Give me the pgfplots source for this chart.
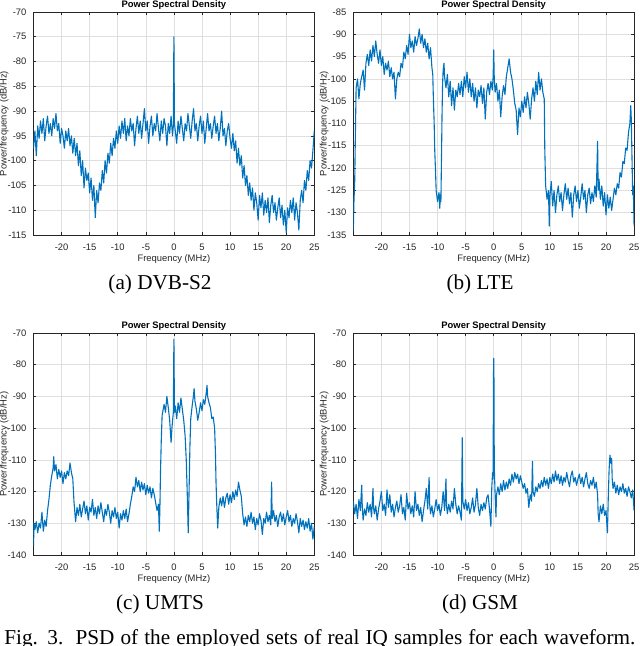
\documentclass[border=0pt]{standalone}
\usepackage{pgfplots}
\pgfplotsset{compat=1.18}
\usepackage{fontspec}
\setmainfont{Liberation Serif}
\newfontfamily\axfont{Liberation Sans}

\definecolor{mblue}{HTML}{0072BD}
\definecolor{axgray}{HTML}{262626}
\definecolor{gridgray}{HTML}{DFDFDF}

\newcommand{\axsize}{\axfont\fontsize{4.7}{5}\selectfont}

\pgfplotsset{
  psd/.style={
    scale only axis, width=140.4pt, height=111.5pt,
    xmin=-25, xmax=25, xtick={-20,-15,...,25},
    grid=major, major grid style={gridgray, line width=0.3pt},
    tick align=inside, major tick length=1.4pt,
    axis line style={axgray, line width=0.35pt},
    every tick/.style={axgray, line width=0.3pt},
    /pgf/number format/assume math mode=true,
    tick label style={font=\axsize, text=axgray},
    xticklabel style={yshift=-0.8pt},
    title={Power Spectral Density},
    every axis title/.style={font=\axsize\bfseries,
      at={(axis description cs:0.5,1)}, anchor=base, yshift=2.3pt},
    xlabel={Frequency (MHz)}, ylabel={Power/frequency (dB/Hz)},
    every axis x label/.style={font=\axsize, text=axgray,
      at={(axis description cs:0.5,-0.1076)}, anchor=center},
    every axis y label/.style={font=\axsize, text=axgray,
      at={(axis description cs:-0.104,0.5)}, rotate=90, anchor=center},
  },
  psdline/.style={mblue, line width=0.55pt, line join=round, no markers},
}

\newcommand{\capfont}{\fontsize{10.6}{12}\selectfont}

\begin{document}
\begin{tikzpicture}
\useasboundingbox (0,0) rectangle (320pt,-323pt);
\clip (0,0) rectangle (320pt,-323pt);

% (a) DVB-S2
\begin{axis}[psd, at={(16.75pt,-117.5pt)}, anchor=south west,
  ymin=-115, ymax=-70, ytick={-115,-110,...,-70}]
\addplot[psdline] coordinates {
(-25,-97.5)(-24.75,-94)(-24.5,-99)(-24.25,-93)(-24,-95.5)(-23.75,-92)(-23.5,-94.5)(-23.25,-91.5)
(-23,-96)(-22.75,-93)(-22.5,-91)(-22.25,-94.5)(-22,-92.5)(-21.75,-95)(-21.5,-91.5)(-21.25,-93.5)
(-21,-90.5)(-20.75,-94)(-20.5,-92.5)(-20.25,-96.5)(-20,-93.5)(-19.75,-95)(-19.5,-97.5)(-19.25,-94)
(-19,-96)(-18.75,-93.5)(-18.5,-97)(-18.25,-95)(-18,-98.5)(-17.75,-95.5)(-17.5,-99)(-17.25,-96.5)
(-17,-101)(-16.75,-98)(-16.5,-103)(-16.25,-100)(-16,-105.5)(-15.75,-101.5)(-15.5,-104)(-15.25,-102.5)
(-15,-106.5)(-14.75,-103.5)(-14.5,-108)(-14.25,-105)(-14,-111.5)(-13.75,-106)(-13.5,-108.5)(-13.25,-104.5)
(-13,-106)(-12.75,-102)(-12.5,-104.5)(-12.25,-100)(-12,-102.5)(-11.75,-98.5)(-11.5,-100.5)(-11.25,-96.5)
(-11,-99)(-10.75,-95.5)(-10.5,-97.5)(-10.25,-94)(-10,-96.5)(-9.75,-93)(-9.5,-95.5)(-9.25,-92)
(-9,-94.5)(-8.75,-91.5)(-8.5,-96)(-8.25,-93)(-8,-95)(-7.75,-91.5)(-7.5,-94)(-7.25,-92.5)
(-7,-97)(-6.75,-93.5)(-6.5,-91)(-6.25,-94.5)(-6,-92)(-5.75,-95.5)(-5.5,-92.5)(-5.25,-89.5)
(-5,-94)(-4.75,-92)(-4.5,-96.5)(-4.25,-93)(-4,-91)(-3.75,-95)(-3.5,-92.5)(-3.25,-94)
(-3,-90.5)(-2.75,-93.5)(-2.5,-96)(-2.25,-92)(-2,-94.5)(-1.75,-91.5)(-1.5,-93)(-1.25,-97)
(-1,-92.5)(-0.75,-94.5)(-0.5,-91)(-0.25,-95)(-0.1,-93)(0,-75)(0.1,-92.5)(0.25,-94)
(0.5,-96.5)(0.75,-92)(1,-94.5)(1.25,-91)(1.5,-93.5)(1.75,-96)(2,-92.5)(2.25,-94)
(2.5,-90.5)(2.75,-93)(3,-95.5)(3.25,-92)(3.5,-89.5)(3.75,-94)(4,-92.5)(4.25,-96)
(4.5,-93)(4.75,-91)(5,-94.5)(5.25,-92)(5.5,-96.5)(5.75,-93.5)(6,-90.5)(6.25,-94)
(6.5,-92.5)(6.75,-95.5)(7,-93)(7.25,-91)(7.5,-94.5)(7.75,-92.5)(8,-96)(8.25,-93.5)
(8.5,-90)(8.75,-95)(9,-93.5)(9.25,-97)(9.5,-94)(9.75,-92.5)(10,-95.5)(10.25,-97.5)
(10.5,-94.5)(10.75,-98)(11,-96)(11.25,-100.5)(11.5,-97.5)(11.75,-101)(12,-99)(12.25,-103.5)
(12.5,-101)(12.75,-105)(13,-103)(13.25,-107)(13.5,-104.5)(13.75,-108)(14,-105.5)(14.25,-110)
(14.5,-106.5)(14.75,-108.5)(15,-112)(15.25,-107)(15.5,-109.5)(15.75,-106.5)(16,-111)(16.25,-108)
(16.5,-110.5)(16.75,-107.5)(17,-112.5)(17.25,-109)(17.5,-107)(17.75,-110.5)(18,-108.5)(18.25,-112)
(18.5,-109.5)(18.75,-107.5)(19,-111.5)(19.25,-109)(19.5,-113)(19.75,-110)(20,-114.5)(20.25,-109.5)
(20.5,-111.5)(20.75,-108)(21,-110.5)(21.25,-107.5)(21.5,-112)(21.75,-108.5)(22,-110.5)(22.25,-114)
(22.5,-108)(22.75,-106)(23,-108.5)(23.25,-104)(23.5,-106)(23.75,-102)(24,-104)(24.25,-100)
(24.5,-101.5)(24.75,-98)(25,-94)
};
\end{axis}
\node[anchor=base, font=\capfont] at (80pt,-144.5pt) {(a) DVB-S2};

% (b) LTE
\begin{axis}[psd, at={(176.65pt,-117.5pt)}, anchor=south west,
  ymin=-135, ymax=-85, ytick={-135,-130,...,-85}]
\addplot[psdline] coordinates {
(-25,-134)(-24.9,-128)(-24.75,-123)(-24.6,-110)(-24.5,-102)(-24.25,-100)(-24,-104.5)(-23.75,-101)
(-23.5,-99.5)(-23.25,-98)(-23,-102.5)(-22.75,-96.5)(-22.5,-94.5)(-22.25,-97)(-22,-93.5)(-21.75,-96)
(-21.5,-92.5)(-21.25,-95)(-21,-91.5)(-20.75,-94.5)(-20.5,-96.5)(-20.25,-93.5)(-20,-97)(-19.75,-95)
(-19.5,-99)(-19.25,-96.5)(-19,-98)(-18.75,-96)(-18.5,-99.5)(-18.25,-97.5)(-18,-100)(-17.75,-98.5)
(-17.5,-104.5)(-17.25,-100)(-17,-98.5)(-16.75,-99.5)(-16.5,-96.5)(-16.25,-97.5)(-16,-94)(-15.75,-95.5)
(-15.5,-92.5)(-15.25,-94.5)(-15,-90)(-14.75,-93)(-14.5,-91.5)(-14.25,-94)(-14,-90.5)(-13.75,-92.5)
(-13.5,-91)(-13.25,-88.8)(-13,-92)(-12.75,-90)(-12.5,-93)(-12.25,-91)(-12,-94)(-11.75,-92)
(-11.5,-95.5)(-11.25,-93)(-11,-97.5)(-10.85,-99)(-10.75,-104)(-10.6,-110)(-10.5,-116)(-10.35,-121)
(-10.25,-125)(-10,-127.5)(-9.75,-125.5)(-9.6,-129)(-9.5,-126)(-9.4,-127.5)(-9.3,-118)(-9.2,-108)
(-9.1,-101)(-9,-98)(-8.85,-96.5)(-8.75,-99.5)(-8.5,-102)(-8.25,-99)(-8,-104)(-7.75,-100.5)
(-7.5,-106)(-7.25,-102)(-7,-107)(-6.75,-102.5)(-6.5,-104)(-6.25,-101)(-6,-103.5)(-5.75,-100.5)
(-5.5,-104)(-5.25,-99.5)(-5,-102)(-4.75,-98.5)(-4.5,-103)(-4.25,-100)(-4,-104)(-3.75,-101)
(-3.5,-105)(-3.25,-102)(-3,-106.5)(-2.75,-102.5)(-2.5,-104)(-2.25,-101.5)(-2,-105.5)(-1.75,-102)
(-1.5,-109)(-1.25,-103)(-1,-101)(-0.75,-103.5)(-0.5,-100.5)(-0.25,-102.5)(-0.1,-99.5)(0,-93.5)
(0.1,-100)(0.25,-103)(0.5,-101)(0.75,-105)(1,-102.5)(1.25,-108.5)(1.5,-104)(1.75,-101.5)
(2,-103.5)(2.25,-99.5)(2.5,-97.5)(2.75,-95.5)(3,-98.5)(3.25,-100)(3.5,-102.5)(3.75,-105.5)
(4,-107)(4.25,-112.5)(4.5,-106.5)(4.75,-108.5)(5,-105)(5.25,-107.5)(5.5,-104)(5.75,-106.5)
(6,-103)(6.25,-105.5)(6.5,-109)(6.75,-104.5)(7,-102)(7.25,-105)(7.5,-100.5)(7.75,-103.5)
(8,-98.5)(8.25,-102.5)(8.5,-100)(8.75,-103)(9,-104.5)(9.1,-116)(9.25,-124)(9.5,-127)
(9.75,-125)(9.9,-133)(10,-126.5)(10.25,-123)(10.5,-128.5)(10.75,-125)(11,-130)(11.25,-126)
(11.5,-124)(11.75,-127.5)(12,-125.5)(12.25,-129.5)(12.5,-126)(12.75,-123.5)(13,-127)(13.25,-124.5)
(13.5,-128)(13.75,-125.5)(14,-131)(14.25,-126)(14.5,-124)(14.75,-127.5)(15,-125)(15.25,-129)
(15.5,-126.5)(15.75,-123.5)(16,-127)(16.25,-125)(16.5,-130)(16.75,-126)(17,-124.5)(17.25,-128)
(17.5,-125.5)(17.75,-127.5)(18,-124)(18.25,-126.5)(18.5,-114)(18.6,-125)(18.75,-122.5)(19,-127)
(19.25,-124)(19.5,-128.5)(19.75,-125.5)(20,-130.5)(20.25,-126)(20.5,-129)(20.75,-126.5)(21,-129.5)
(21.25,-127)(21.5,-124.5)(21.75,-126)(22,-123.5)(22.25,-124.5)(22.5,-121)(22.75,-122)(23,-118.5)
(23.25,-119)(23.5,-115.5)(23.75,-116)(24,-112)(24.25,-110)(24.4,-106)(24.5,-109)(24.6,-116)
(24.75,-126)(24.85,-124)(25,-133)
};
\end{axis}
\node[anchor=base, font=\capfont] at (240pt,-144.5pt) {(b) LTE};

% (c) UMTS
\begin{axis}[psd, at={(16.75pt,-277.5pt)}, anchor=south west, height=111pt,
  ymin=-140, ymax=-70, ytick={-140,-130,...,-70}]
\addplot[psdline] coordinates {
(-25,-137)(-24.9,-130)(-24.75,-132)(-24.5,-129.5)(-24.25,-133)(-24,-130)(-23.75,-131.5)(-23.5,-126.5)
(-23.25,-132.5)(-23,-129)(-22.75,-131)(-22.5,-126)(-22.25,-122.5)(-22,-118)(-21.75,-115)(-21.5,-112.5)
(-21.4,-109)(-21.25,-113.5)(-21,-111.5)(-20.75,-116)(-20.5,-113)(-20.25,-115.5)(-20,-113.5)(-19.75,-117.5)
(-19.5,-114)(-19.25,-116)(-19,-113.5)(-18.75,-115)(-18.5,-111)(-18.25,-114)(-18,-116)(-17.8,-123)
(-17.5,-129.5)(-17.25,-125)(-17,-127.5)(-16.75,-124)(-16.5,-128)(-16.25,-125.5)(-16,-123)(-15.75,-127)
(-15.5,-124.5)(-15.25,-129)(-15,-125)(-14.75,-126.5)(-14.5,-122.5)(-14.25,-127.5)(-14,-125)(-13.75,-128.5)
(-13.5,-124.5)(-13.25,-127)(-13,-123.5)(-12.75,-126.5)(-12.5,-129.5)(-12.25,-125.5)(-12,-127.5)(-11.75,-124)
(-11.5,-126.5)(-11.25,-130)(-11,-126)(-10.75,-128)(-10.5,-125)(-10.25,-128.5)(-10,-126.5)(-9.75,-131.5)
(-9.5,-127)(-9.25,-129)(-9,-126)(-8.75,-128.5)(-8.5,-125.5)(-8.25,-129.5)(-8,-127)(-7.75,-124)
(-7.5,-121.5)(-7.25,-118.5)(-7,-120)(-6.75,-115.5)(-6.5,-118.5)(-6.25,-116.5)(-6,-120)(-5.75,-117)
(-5.5,-119.5)(-5.25,-117.5)(-5,-121)(-4.75,-118)(-4.5,-120.5)(-4.25,-118.5)(-4,-122)(-3.75,-119)
(-3.5,-121)(-3.25,-123.5)(-3,-126)(-2.75,-124)(-2.6,-132.5)(-2.5,-126)(-2.4,-115)(-2.25,-104)
(-2.1,-96)(-2,-95)(-1.75,-92.5)(-1.5,-95)(-1.25,-90)(-1,-93.5)(-0.75,-97.5)(-0.5,-104.5)
(-0.35,-100)(-0.2,-97)(-0.1,-95)(0,-72)(0.1,-95)(0.25,-93)(0.5,-97)(0.75,-92)
(1,-95)(1.25,-90.5)(1.5,-94)(1.75,-97.5)(2,-102.5)(2.2,-110)(2.4,-122)(2.55,-133)
(2.7,-120)(2.85,-106)(3,-97)(3.25,-93)(3.5,-89.5)(3.6,-87.5)(3.75,-91.5)(4,-94)
(4.25,-97.5)(4.5,-95)(4.75,-92)(5,-94.5)(5.25,-91)(5.5,-92.5)(5.75,-89)(5.9,-86.5)
(6,-90)(6.25,-92)(6.5,-93.5)(6.75,-97)(7,-96.5)(7.25,-100)(7.4,-108)(7.5,-117)
(7.65,-125)(7.8,-131.5)(8,-125)(8.25,-122)(8.5,-124.5)(8.75,-121.5)(9,-125)(9.25,-122)
(9.5,-120.5)(9.75,-124)(10,-121)(10.25,-123.5)(10.5,-120)(10.75,-122.5)(11,-119.5)(11.25,-121.5)
(11.5,-117)(11.75,-119.5)(12,-121.5)(12.25,-127)(12.5,-130.5)(12.75,-128)(13,-131)(13.25,-127.5)
(13.5,-129.5)(13.75,-126.5)(14,-130)(14.25,-128)(14.5,-132)(14.75,-128.5)(15,-130.5)(15.25,-127)
(15.5,-129)(15.75,-133.5)(16,-128.5)(16.25,-130)(16.5,-126.5)(16.75,-129.5)(17,-127.5)(17.25,-130.5)
(17.4,-117)(17.5,-128.5)(17.75,-126)(18,-129.5)(18.25,-127.5)(18.5,-131)(18.75,-128)(19,-126.5)
(19.25,-129.5)(19.5,-127)(19.75,-130.5)(20,-128)(20.25,-126)(20.5,-129.5)(20.75,-127.5)(21,-131)
(21.25,-128.5)(21.5,-130)(21.75,-127)(22,-129.5)(22.25,-133)(22.5,-128.5)(22.75,-131)(23,-129)
(23.25,-132)(23.5,-129.5)(23.75,-131.5)(24,-128.5)(24.25,-132.5)(24.5,-130)(24.75,-135)(25,-131)
};
\end{axis}
\node[anchor=base, font=\capfont] at (80pt,-304.5pt) {(c) UMTS};

% (d) GSM
\begin{axis}[psd, at={(176.65pt,-277.5pt)}, anchor=south west, height=111pt,
  ymin=-140, ymax=-70, ytick={-140,-130,...,-70}]
\addplot[psdline] coordinates {
(-25,-123)(-24.75,-127)(-24.5,-124)(-24.25,-128.5)(-24,-122.5)(-23.75,-126)(-23.5,-118)(-23.4,-125)
(-23.25,-129)(-23,-125.5)(-22.75,-127.5)(-22.5,-123.5)(-22.25,-126.5)(-22,-124)(-21.75,-128)(-21.5,-119)
(-21.4,-125)(-21.25,-127)(-21,-124.5)(-20.75,-129)(-20.5,-125.5)(-20.25,-123)(-20,-120)(-19.75,-126)
(-19.5,-124)(-19.25,-127.5)(-19,-119.5)(-18.75,-125)(-18.5,-121)(-18.25,-126.5)(-18,-124)(-17.75,-128)
(-17.5,-125)(-17.25,-123)(-17,-126.5)(-16.75,-124.5)(-16.5,-121)(-16.25,-127)(-16,-125)(-15.75,-129)
(-15.5,-120.5)(-15.25,-125.5)(-15,-123.5)(-14.75,-127)(-14.5,-124.5)(-14.25,-128)(-14,-120)(-13.75,-126)
(-13.5,-124)(-13.25,-127.5)(-13,-125)(-12.75,-129.5)(-12.5,-126)(-12.25,-123)(-12,-119)(-11.75,-125.5)
(-11.5,-115.5)(-11.4,-124)(-11.25,-127)(-11,-124.5)(-10.75,-128)(-10.5,-125.5)(-10.25,-122.5)(-10,-126)
(-9.75,-124)(-9.5,-127.5)(-9.25,-125)(-9,-120)(-8.75,-126)(-8.5,-116)(-8.4,-124.5)(-8.25,-127)
(-8,-124)(-7.75,-126.5)(-7.5,-123)(-7.25,-125.5)(-7,-119)(-6.75,-124)(-6.5,-127)(-6.25,-124.5)
(-6,-126.5)(-5.75,-129)(-5.6,-103)(-5.5,-123)(-5.25,-125.5)(-5,-122.5)(-4.75,-126)(-4.5,-123.5)
(-4.25,-127)(-4,-125)(-3.75,-122)(-3.5,-126.5)(-3.25,-124)(-3,-119)(-2.75,-125)(-2.5,-127.5)
(-2.25,-124)(-2,-126)(-1.75,-123.5)(-1.5,-125.5)(-1.25,-122)(-1,-121)(-0.75,-125.5)(-0.5,-131)
(-0.35,-119)(-0.2,-114)(-0.1,-116)(-0.05,-85)(0,-78)(0.05,-85)(0.1,-112)(0.25,-121)
(0.4,-128)(0.5,-121)(0.75,-118.5)(1,-121)(1.25,-117.5)(1.5,-120)(1.75,-116.5)(2,-119.5)
(2.25,-117)(2.5,-119)(2.75,-116)(3,-118)(3.25,-114.5)(3.5,-117)(3.75,-114)(4,-116)
(4.25,-114.5)(4.5,-117.5)(4.75,-115)(5,-117)(5.25,-119)(5.5,-117.5)(5.75,-120.5)(6,-119)
(6.25,-125)(6.5,-121)(6.75,-123)(6.9,-110.5)(7,-120)(7.25,-121.5)(7.5,-118.5)(7.75,-120)
(8,-117.5)(8.25,-119)(8.5,-116.5)(8.75,-118.5)(9,-115.5)(9.25,-118)(9.5,-116)(9.75,-119)
(10,-115.5)(10.25,-117.5)(10.5,-114.5)(10.75,-117)(11,-113.5)(11.25,-116.5)(11.5,-114.5)(11.75,-117.5)
(12,-115)(12.25,-118)(12.5,-115.5)(12.75,-117)(13,-114)(13.25,-116.5)(13.5,-118.5)(13.75,-115)
(14,-113.5)(14.25,-117)(14.5,-115.5)(14.75,-118)(15,-116)(15.25,-114.5)(15.5,-117.5)(15.75,-115.5)
(16,-118.5)(16.25,-116)(16.5,-114)(16.75,-117.5)(17,-119)(17.25,-116.5)(17.5,-118)(17.75,-115.5)
(18,-119)(18.25,-117)(18.5,-121)(18.6,-127)(18.75,-129.5)(19,-124.5)(19.25,-127)(19.5,-124)
(19.75,-127.5)(20,-126)(20.25,-133)(20.4,-122)(20.55,-113)(20.7,-108.5)(20.85,-111)(21,-109.5)
(21.1,-116)(21.25,-119)(21.5,-117)(21.75,-120.5)(22,-118)(22.25,-121)(22.5,-118.5)(22.75,-120)
(23,-117.5)(23.25,-120.5)(23.5,-119)(23.75,-121.5)(24,-118.5)(24.25,-120)(24.5,-122)(24.75,-119.5)
(25,-126)
};
\end{axis}
\node[anchor=base, font=\capfont] at (240pt,-304.5pt) {(d) GSM};

% figure caption, cut at the lower edge as in the original
\node[anchor=base west, inner sep=0pt, font=\capfont] at (2pt,-322pt)
  {\makebox[315.5pt][s]{Fig. 3.\ \ PSD of the employed sets of real IQ samples for each waveform.}};
\end{tikzpicture}
\end{document}
